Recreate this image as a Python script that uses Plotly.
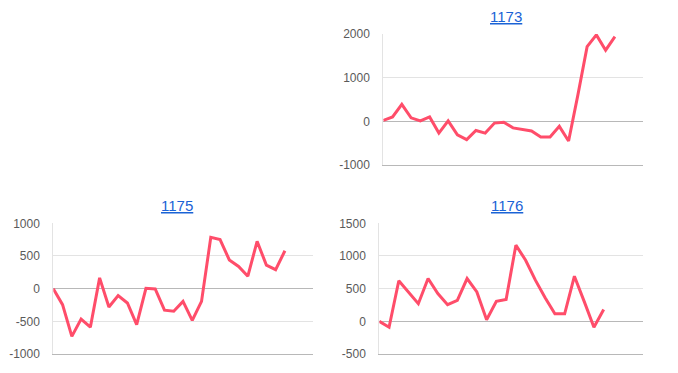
import plotly.graph_objects as go

titles = ["1173", "1175", "1176"]

s1173 = [20, 100, 390, 80, 10, 100, -270, 10, -310, -420, -210, -270, -40, -20,
         -150, -190, -220, -360, -360, -115, -450, 600, 1710, 1980, 1630, 1940]
s1175 = [0, -245, -730, -465, -590, 165, -280, -105, -220, -550, 5, -5, -330, -345,
         -195, -485, -195, 785, 750, 440, 340, 190, 725, 360, 290, 580]
s1176 = [0, -90, 620, 450, 270, 655, 425, 255, 320, 655, 450, 25, 305, 335,
         1165, 935, 630, 360, 115, 115, 690, 305, -90, 180]

y_ticks_1173 = [-1000, 0, 1000, 2000]
y_ticks_1175 = [-1000, -500, 0, 500, 1000]
y_ticks_1176 = [-500, 0, 500, 1000, 1500]

W, H = 678, 373
LINE = "#ff4d6a"
GRID = "#e3e3e3"
BASE = "#b8b8b8"
LINK = "#1a63d6"
TICK = "#5a5a5a"

fig = go.Figure()

panels = [
    # (series, ticks, x-range-max, px left, px right, px top, px bottom, title x px, title)
    (s1173, y_ticks_1173, 28, 383.3, 642.7, 34.0, 165.0, 506.0, titles[0]),
    (s1175, y_ticks_1175, 28, 53.3, 312.7, 223.3, 354.0, 176.7, titles[1]),
    (s1176, y_ticks_1176, 27, 379.3, 642.7, 223.3, 354.0, 506.5, titles[2]),
]

layout = dict(
    width=W, height=H,
    margin=dict(l=0, r=0, t=0, b=0, pad=0, autoexpand=False),
    paper_bgcolor="white", plot_bgcolor="white",
    showlegend=False,
    font=dict(family="Arial, Liberation Sans, sans-serif", size=12, color=TICK),
    annotations=[],
)

for i, (ser, ticks, xmax, l, r, t, b, tx, title) in enumerate(panels, start=1):
    xa = "x" if i == 1 else f"x{i}"
    ya = "y" if i == 1 else f"y{i}"
    fig.add_trace(go.Scatter(
        x=list(range(len(ser))), y=ser, mode="lines",
        line=dict(color=LINE, width=3),
        xaxis=xa, yaxis=ya, hoverinfo="skip",
    ))
    xkey = "xaxis" if i == 1 else f"xaxis{i}"
    ykey = "yaxis" if i == 1 else f"yaxis{i}"
    layout[xkey] = dict(
        domain=[l / W, r / W], range=[0, xmax], anchor=ya,
        showgrid=False, zeroline=False, showticklabels=False, ticks="",
        showline=True, linecolor=BASE, linewidth=1, fixedrange=True,
        automargin=False,
    )
    layout[ykey] = dict(
        domain=[1 - b / H, 1 - t / H], range=[ticks[0], ticks[-1]], anchor=xa,
        tickvals=ticks, ticktext=[str(v) for v in ticks],
        showgrid=True, gridcolor=GRID, gridwidth=1,
        zeroline=True, zerolinecolor=BASE, zerolinewidth=1,
        showline=True, linecolor=GRID, linewidth=1,
        ticks="", ticklen=0, ticklabelstandoff=10,
        tickfont=dict(size=12, color=TICK), fixedrange=True,
        automargin=False,
    )
    layout["annotations"].append(dict(
        text=f'<a href="#" style="color:{LINK};text-decoration:underline">{title}</a>',
        x=tx / W, y=1 - (t - 18) / H, xref="paper", yref="paper",
        xanchor="center", yanchor="middle", showarrow=False,
        font=dict(size=15, color=LINK),
    ))

fig.update_layout(**layout)
fig.write_html("out.html")
